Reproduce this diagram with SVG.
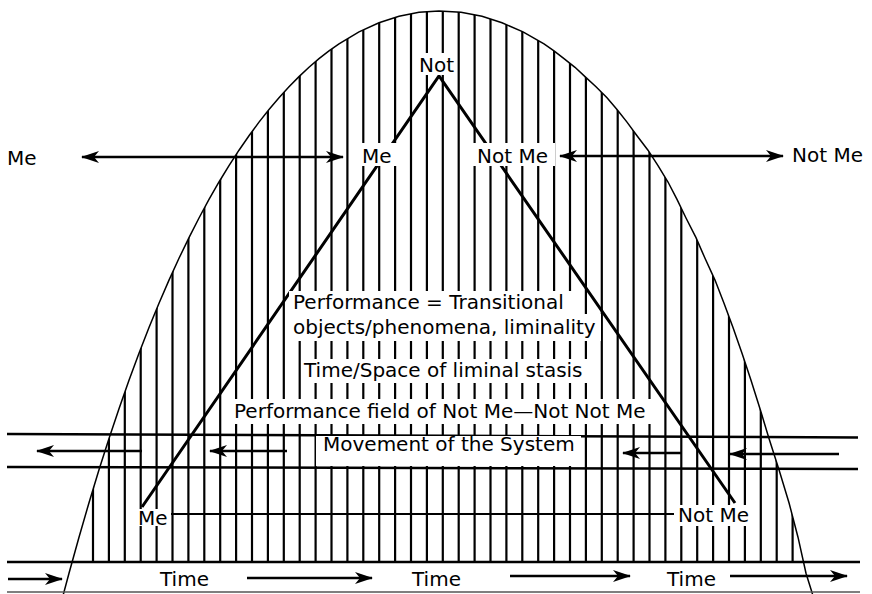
<svg xmlns="http://www.w3.org/2000/svg" width="872" height="594" viewBox="0 0 872 594">
<style>
.t{font-family:"DejaVu Sans","Liberation Sans",sans-serif;font-size:20px;fill:#000}
.bg{fill:#fff}
.v{stroke:#000;stroke-width:2.2;fill:none}
.arch{stroke:#000;stroke-width:1.5;fill:none}
.tri{stroke:#000;stroke-width:3;fill:none}
.h{stroke:#000;stroke-width:2.5;fill:none}
.hl{stroke:#000;stroke-width:2;fill:none}
.ar{stroke:#000;stroke-width:2.5;fill:none;marker-end:url(#ah)}
.ar2{stroke:#000;stroke-width:2.5;fill:none;marker-end:url(#ah);marker-start:url(#ah)}
</style>
<defs>
<marker id="ah" viewBox="0 0 18 12" refX="17" refY="6" markerWidth="18" markerHeight="12" markerUnits="userSpaceOnUse" orient="auto-start-reverse"><path d="M0,0 L18,6 L0,12 L5,6 Z" fill="#000"/></marker>
<clipPath id="archclip"><polygon points="63,600 63,595.7 69,573.2 79,537.2 89,502.7 99,469.8 109,438.5 119,408.7 129,380.3 139,353.3 149,327.6 159,303.3 169,280.1 179,258.3 189,237.6 199,218 209,199.4 219,182 229,165.6 239,150.2 249,135.7 259,122.1 269,109.5 279,97.7 289,86.7 299,76.6 309,67.3 319,58.7 329,50.9 339,43.9 359,31.9 379,22.7 399,16.2 419,12.3 439,11 461,12.3 482,16.2 502,22.7 523,31.9 544,43.9 554,50.9 564,58.7 575,67.3 585,76.6 596,86.7 607,97.7 617,109.5 627,122.1 637,135.7 648,150.2 658,165.6 668,182 677,199.4 686,218 696,237.6 705,258.3 715,280.1 724,303.3 733,327.6 742,353.3 751,380.3 760,408.7 769,438.5 779,469.8 789,502.7 798,537.2 806,573.2 813,595.7 813,600"/></clipPath>
</defs>
<rect width="872" height="594" fill="#fff"/>
<g id="hatching" clip-path="url(#archclip)">
<path class="v" d="M93 0V562M108.9 0V562M124.8 0V562M140.7 0V562M156.6 0V562M172.5 0V562M188.4 0V562M204.3 0V562M220.2 0V562M236.1 0V562M252 0V562M267.9 0V562M283.8 0V562M299.7 0V562M315.6 0V562M331.5 0V562M347.4 0V562M363.3 0V562M379.2 0V562M395.1 0V562M411 0V562M426.9 0V562M442.8 0V562M458.7 0V562M474.6 0V562M490.5 0V562M506.4 0V562M522.3 0V562M538.2 0V562M554.1 0V562M570 0V562M585.9 0V562M601.8 0V562M617.7 0V562M633.6 0V562M649.5 0V562M665.4 0V562M681.3 0V562M697.2 0V562M713.1 0V562M729 0V562M744.9 0V562M760.8 0V562M776.7 0V562M792.6 0V562"/>
</g>
<polyline id="arch" class="arch" points="63,595.7 69,573.2 79,537.2 89,502.7 99,469.8 109,438.5 119,408.7 129,380.3 139,353.3 149,327.6 159,303.3 169,280.1 179,258.3 189,237.6 199,218 209,199.4 219,182 229,165.6 239,150.2 249,135.7 259,122.1 269,109.5 279,97.7 289,86.7 299,76.6 309,67.3 319,58.7 329,50.9 339,43.9 359,31.9 379,22.7 399,16.2 419,12.3 439,11 461,12.3 482,16.2 502,22.7 523,31.9 544,43.9 554,50.9 564,58.7 575,67.3 585,76.6 596,86.7 607,97.7 617,109.5 627,122.1 637,135.7 648,150.2 658,165.6 668,182 677,199.4 686,218 696,237.6 705,258.3 715,280.1 724,303.3 733,327.6 742,353.3 751,380.3 760,408.7 769,438.5 779,469.8 789,502.7 798,537.2 806,573.2 813,595.7"/>
<g id="connectors">
<path class="h" d="M7 434L858 437.5M7 467L858 469M7 562H860"/>
<path d="M7 592H860" stroke="#555" stroke-width="1.5" fill="none"/>
<path class="tri" d="M142 507L439 76L735 503"/>
<path class="hl" d="M171 514H674"/>
</g>
<g id="node-not"><rect class="bg" x="415" y="53" width="41" height="22"/><text class="t" x="419" y="72">Not</text></g>
<g id="node-me-top"><rect class="bg" x="357" y="143" width="40" height="23"/><text class="t" x="362" y="163">Me</text></g>
<g id="node-notme-top"><rect class="bg" x="473" y="143" width="82" height="23"/><text class="t" x="477" y="163">Not Me</text></g>
<g id="node-me-left"><text class="t" x="7" y="165">Me</text></g>
<g id="node-notme-right"><text class="t" x="792" y="162">Not Me</text></g>
<g id="node-performance">
<rect class="bg" x="289" y="291" width="290" height="23"/>
<rect class="bg" x="288" y="314" width="313" height="27"/>
<text class="t" x="293" y="309">Performance = Transitional</text>
<text class="t" x="293" y="334">objects/phenomena, liminality</text>
</g>
<g id="node-timespace"><rect class="bg" x="302" y="359" width="288" height="24"/><text class="t" x="304" y="377">Time/Space of liminal stasis</text></g>
<g id="node-field"><rect class="bg" x="227" y="399" width="430" height="25"/><text class="t" x="234" y="418">Performance field of Not Me—Not Not Me</text></g>
<g id="node-movement"><rect class="bg" x="316" y="436" width="265" height="30"/><text class="t" x="323" y="451">Movement of the System</text></g>
<g id="node-me-bottom"><rect class="bg" x="135" y="509" width="36" height="17"/><text class="t" x="138" y="525">Me</text></g>
<g id="node-notme-bottom"><rect class="bg" x="674" y="505" width="81" height="21"/><text class="t" x="678" y="522">Not Me</text></g>
<g id="node-time1"><text class="t" x="160" y="586">Time</text></g>
<g id="node-time2"><text class="t" x="412" y="586">Time</text></g>
<g id="node-time3"><text class="t" x="667" y="586">Time</text></g>
<g id="arrows">
<path class="ar2" d="M82 157H343"/>
<path class="ar2" d="M560 156H783"/>
<path class="ar" d="M142 451H37"/>
<path class="ar" d="M287 451H210"/>
<path class="ar" d="M682 453H623"/>
<path class="ar" d="M839 454H730"/>
<path class="ar" d="M8 579H62"/>
<path class="ar" d="M247 578H372"/>
<path class="ar" d="M510 576H630"/>
<path class="ar" d="M730 576H847"/>
</g>
</svg>
